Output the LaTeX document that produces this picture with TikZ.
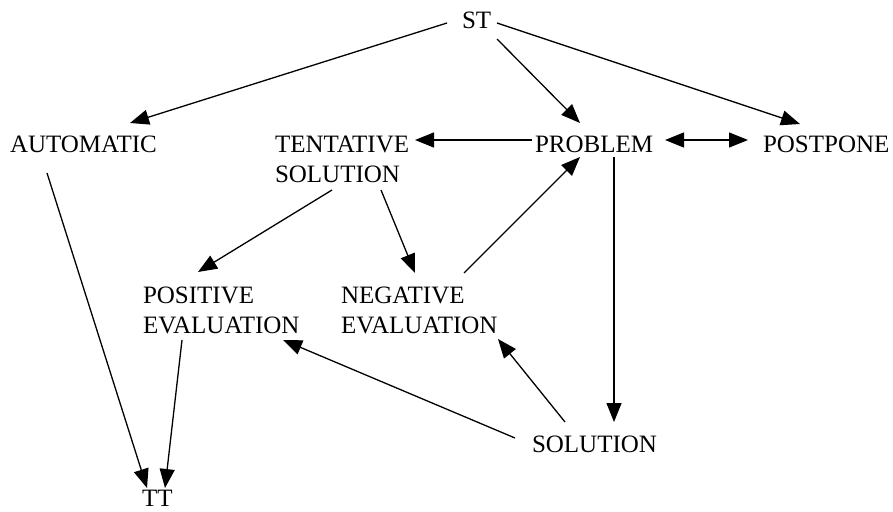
\documentclass[tikz,border=0pt]{standalone}
\usepackage{fontspec}
\setmainfont{Liberation Serif}
\newfontfamily\timesf{Liberation Serif}
\usetikzlibrary{arrows.meta,calc}
\tikzset{
  lbl/.style={anchor=base west, inner sep=0pt, outer sep=0pt, font=\timesf\fontsize{25}{30}\selectfont},
  arr/.style={-{Triangle[length=19pt,width=15pt]}, line width=1.3pt},
  darr/.style={{Triangle[length=19pt,width=15pt]}-{Triangle[length=19pt,width=15pt]}, line width=1.3pt}
}
\newcommand{\twolines}[2]{\begin{tabular}[t]{@{}l@{}}#1\\#2\end{tabular}}
\begin{document}
\begin{tikzpicture}[x=1pt,y=-1pt]
\useasboundingbox (0,0) rectangle (893,511);
\node[lbl] (st)   at (462,29)  {ST};
\node[lbl] (auto) at (10,152)  {AUTOMATIC};
\node[lbl] (tent) at (275,152) {\twolines{TENTATIVE}{SOLUTION}};
\node[lbl] (prob) at (535,152) {PROBLEM};
\node[lbl] (post) at (763,152) {POSTPONE};
\node[lbl] (pos)  at (143,303) {\twolines{POSITIVE}{EVALUATION}};
\node[lbl] (neg)  at (341,303) {\twolines{NEGATIVE}{EVALUATION}};
\node[lbl] (sol)  at (532,452) {SOLUTION};
\node[lbl] (tt)   at (142,506) {TT};

\draw[arr] ($(st.base west)+(-15,-6)$) -- ($(auto.base west)+(120,-29)$);
\draw[arr] ($(st.base west)+(35,10)$) -- ($(prob.base west)+(45,-29)$);
\draw[arr] ($(st.base west)+(35,-6)$) -- ($(post.base west)+(37,-28)$);
\draw[arr] ($(prob.base west)+(-3,-12)$) -- ($(tent.base west)+(140,-12)$);
\draw[darr] ($(prob.base west)+(130,-12)$) -- ($(post.base west)+(-15,-12)$);
\draw[arr] ($(prob.base west)+(79,5)$) -- ($(sol.base west)+(82,-30)$);
\draw[arr] ($(tent.base west)+(57,38)$) -- ($(pos.base west)+(55,-31)$);
\draw[arr] ($(tent.base west)+(106,38)$) -- ($(neg.base west)+(74,-30)$);
\draw[arr] ($(neg.base west)+(123,-30)$) -- ($(prob.base west)+(45,5)$);
\draw[arr] ($(sol.base west)+(-17,-14)$) -- ($(pos.base west)+(140,37)$);
\draw[arr] ($(sol.base west)+(33,-30)$) -- ($(neg.base west)+(157,36)$);
\draw[arr] ($(auto.base west)+(37,21)$) -- ($(tt.base west)+(5,-18)$);
\draw[arr] ($(pos.base west)+(39,37)$) -- ($(tt.base west)+(23,-18)$);
\end{tikzpicture}
\end{document}
